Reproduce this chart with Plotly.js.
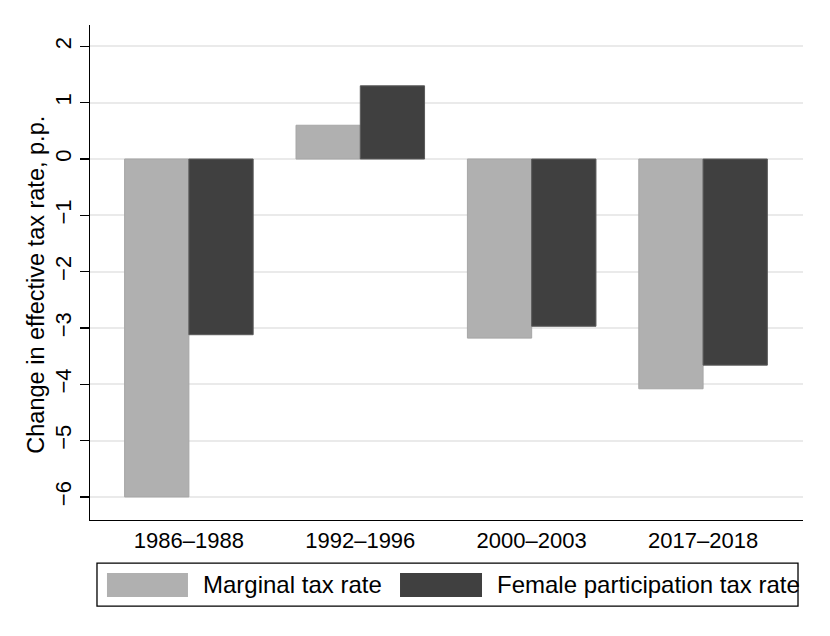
<!DOCTYPE html>
<html>
<head>
<meta charset="utf-8">
<script src="https://cdn.plot.ly/plotly-3.0.1.min.js"></script>
<style>
  html, body { margin: 0; padding: 0; background: #fff; }
  #chart { width: 830px; height: 636px; }
</style>
</head>
<body>
<div id="chart"></div>
<script>
// periods and changes in effective tax rates (p.p.)
var periods = ["1986\u20131988", "1992\u20131996", "2000\u20132003", "2017\u20132018"];
var marginal = [-6.0, 0.6, -3.18, -4.08];
var female = [-3.12, 1.3, -2.97, -3.66];
var yTicks = [-6, -5, -4, -3, -2, -1, 0, 1, 2];
var yTickText = yTicks.map(function (v) { return v < 0 ? "\u2212" + Math.abs(v) : String(v); });

var seriesNames = ["Marginal tax rate", "Female participation tax rate"];
var yTitle = "Change in effective tax rate, p.p.";
var lightGrey = "#b0b0b0", darkGrey = "#404040";

var traceMarginal = {
  type: "bar",
  name: seriesNames[0],
  x: periods,
  y: marginal,
  marker: {color: lightGrey, line: {color: "#a6a6a6", width: 1}},
  hoverinfo: "skip"
};

var traceFemale = {
  type: "bar",
  name: seriesNames[1],
  x: periods,
  y: female,
  marker: {color: darkGrey, line: {color: "#5a5a5a", width: 1}},
  hoverinfo: "skip"
};

var font = "Liberation Sans, Arial, Helvetica, sans-serif";

// legend drawn by hand so the swatches are wide like the original
var shapes = [
  {type: "rect", xref: "paper", yref: "paper", x0: 0.0098, x1: 0.993, y0: -0.087, y1: -0.174,
   line: {color: "black", width: 1.3}, fillcolor: "white"},
  {type: "rect", xref: "paper", yref: "paper", x0: 0.0238, x1: 0.1374, y0: -0.1071, y1: -0.1556,
   line: {width: 0}, fillcolor: lightGrey},
  {type: "rect", xref: "paper", yref: "paper", x0: 0.4348, x1: 0.5498, y0: -0.1071, y1: -0.1556,
   line: {width: 0}, fillcolor: darkGrey}
];
var annotations = [
  {xref: "paper", yref: "paper", x: 0.1557, y: -0.1313, xanchor: "left", yanchor: "middle",
   text: seriesNames[0], showarrow: false, font: {size: 24, color: "black", family: font}},
  {xref: "paper", yref: "paper", x: 0.568, y: -0.1313, xanchor: "left", yanchor: "middle",
   text: seriesNames[1], showarrow: false, font: {size: 24, color: "black", family: font}},
  // y-axis title
  {xref: "paper", yref: "paper", x: -0.076, y: 0.475, xanchor: "center", yanchor: "middle",
   textangle: -90, text: yTitle, showarrow: false, font: {size: 23.5, color: "black", family: font}}
];

var layout = {
  width: 830,
  height: 636,
  margin: {l: 90, r: 27, t: 25, b: 116},
  paper_bgcolor: "white",
  plot_bgcolor: "white",
  font: {family: font, color: "black"},
  barmode: "group",
  bargap: 0.25,
  bargroupgap: 0,
  showlegend: false,
  xaxis: {
    type: "category",
    range: [-0.577, 3.583],
    showline: true,
    linecolor: "black",
    linewidth: 1.3,
    ticks: "",
    ticklen: 0,
    showgrid: false,
    zeroline: false,
    tickfont: {size: 22},
    ticklabelstandoff: 0
  },
  yaxis: {
    range: [-6.41, 2.38],
    tickvals: yTicks,
    ticktext: yTickText,
    tickangle: -90,
    tickfont: {size: 22},
    ticks: "outside",
    ticklen: 9,
    tickwidth: 1.3,
    tickcolor: "black",
    ticklabelstandoff: 0,
    showline: true,
    linecolor: "black",
    linewidth: 1.3,
    showgrid: true,
    gridcolor: "#eaeaea",
    gridwidth: 2,
    zeroline: false
  },
  shapes: shapes,
  annotations: annotations
};

Plotly.newPlot("chart", [traceMarginal, traceFemale], layout, {displayModeBar: false, staticPlot: true});
</script>
</body>
</html>
